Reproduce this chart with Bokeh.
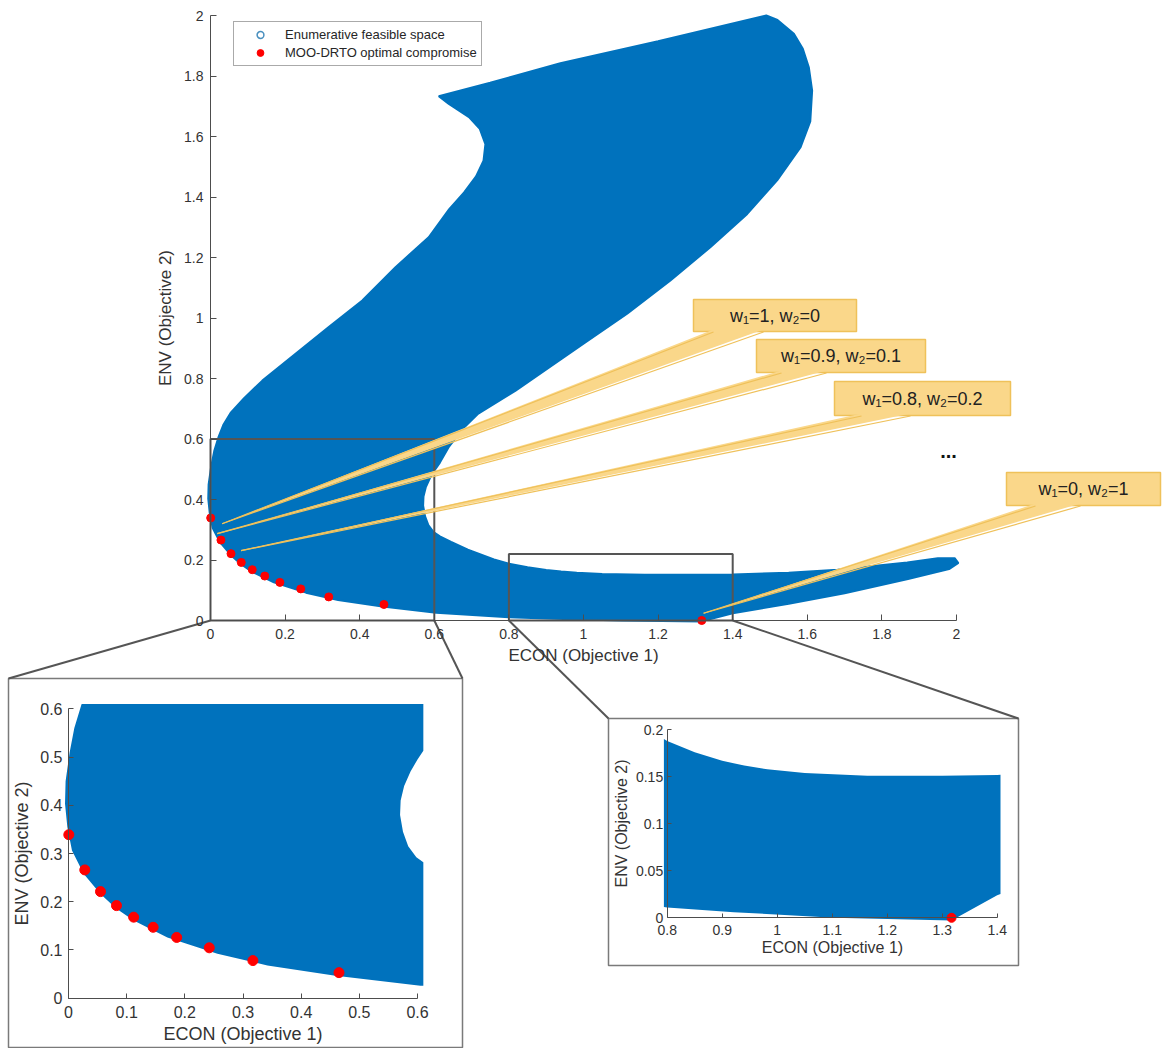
from bokeh.plotting import figure
from bokeh.models import (Range1d, LinearAxis, FixedTicker, CustomJSTickFormatter,
                          Legend, LegendItem)
from bokeh.core.properties import value
from bokeh.embed import file_html
from bokeh.resources import INLINE

W, H = 1176, 1048
FONT = "Liberation Sans"
BLUE = "#0072BD"
RED = "#FF0000"
AXC = "#4D4D4D"
TXT = "#333333"
CALL_FILL = "#FAD78A"
CALL_LINE = "#EFC15A"

# ---- data -------------------------------------------------------------
# boundary of the enumerated feasible objective space (ECON, ENV)
region_x = [1.490, 1.200, 0.938, 0.750, 0.612, 0.639, 0.693, 0.722, 0.737, 0.732,
            0.712, 0.680, 0.640, 0.585, 0.496, 0.407, 0.317, 0.228, 0.139, 0.090,
            0.055, 0.035, 0.022, 0.010, 0.002, -0.005, -0.006, -0.002, 0.006, 0.026,
            0.055, 0.082, 0.112, 0.170, 0.256, 0.342, 0.456, 0.605, 0.800, 0.921,
            1.103, 1.317, 1.400, 1.550, 1.700, 1.870, 1.980, 2.005, 1.995, 1.950,
            1.868, 1.681, 1.550, 1.400, 1.300, 1.164, 1.050, 0.982, 0.940, 0.900,
            0.850, 0.800, 0.760, 0.690, 0.645, 0.615, 0.598, 0.584, 0.575, 0.570,
            0.571, 0.577, 0.588, 0.600, 0.615, 0.638, 0.675, 0.718, 0.818, 0.938,
            1.000, 1.117, 1.233, 1.340, 1.439, 1.519, 1.582, 1.608, 1.613, 1.604,
            1.588, 1.564, 1.520]
region_y = [2.000, 1.915, 1.842, 1.778, 1.733, 1.708, 1.664, 1.625, 1.575, 1.520,
            1.468, 1.415, 1.360, 1.267, 1.168, 1.058, 0.970, 0.882, 0.793, 0.735,
            0.688, 0.648, 0.608, 0.560, 0.510, 0.450, 0.403, 0.355, 0.306, 0.258,
            0.216, 0.186, 0.161, 0.126, 0.092, 0.068, 0.047, 0.026, 0.011, 0.006,
            0.000, -0.003, 0.024, 0.055, 0.090, 0.137, 0.170, 0.190, 0.206, 0.206,
            0.192, 0.168, 0.158, 0.152, 0.151, 0.151, 0.154, 0.158, 0.162, 0.167,
            0.176, 0.188, 0.202, 0.234, 0.260, 0.278, 0.292, 0.315, 0.345, 0.380,
            0.410, 0.440, 0.470, 0.495, 0.522, 0.572, 0.632, 0.684, 0.760, 0.862,
            0.915, 1.014, 1.124, 1.234, 1.344, 1.455, 1.565, 1.650, 1.752, 1.829,
            1.890, 1.940, 1.985]

# MOO-DRTO optimal compromise solutions
pareto_x = [0.0005, 0.028, 0.055, 0.0825, 0.112, 0.1455, 0.186, 0.242, 0.317, 0.465, 1.317]
pareto_y = [0.339, 0.266, 0.221, 0.192, 0.168, 0.147, 0.126, 0.1045, 0.078, 0.053, 0.0]

main_ticks = [0, 0.2, 0.4, 0.6, 0.8, 1.0, 1.2, 1.4, 1.6, 1.8, 2.0]
zoom_a_ticks = [0, 0.1, 0.2, 0.3, 0.4, 0.5, 0.6]
zoom_b_xticks = [0.8, 0.9, 1.0, 1.1, 1.2, 1.3, 1.4]
zoom_b_yticks = [0, 0.05, 0.1, 0.15, 0.2]

# zoom windows marked on the main plot: (x0, x1, y0, y1)
zoom_a_window = (0.0, 0.6, 0.0, 0.6)
zoom_b_window = (0.8, 1.4, 0.0, 0.22)

weight_labels = ["w\u2081=1, w\u2082=0", "w\u2081=0.9, w\u2082=0.1",
                 "w\u2081=0.8, w\u2082=0.2", "w\u2081=0, w\u2082=1"]
# point each weight label refers to (ECON, ENV)
weight_targets_x = [0.031, 0.018, 0.082, 1.322]
weight_targets_y = [0.320, 0.287, 0.231, 0.024]

# ---- panel placement on the page (pixels from top-left) ----------------
panels = {
    "m": dict(x0=210.0, sx=373.0, y0=620.0, sy=302.5),
    "a": dict(x0=68.0, sx=581.7, y0=997.7, sy=482.3),
    "b": dict(x0=666.7 - 0.8 * 550.0, sx=550.0, y0=917.3, sy=940.0),
}
inset_a_box = (8, 678, 462, 1047)     # left, top, right, bottom
inset_b_box = (608, 718, 1018, 965)
callout_boxes = [(693, 299, 856, 331), (756, 339, 925, 372),
                 (834, 381, 1010, 415), (1006, 472, 1160, 505)]
callout_bases = [(713, 763), (781, 826), (861, 910), (1035, 1080)]


def fx(k, x):
    return panels[k]["x0"] + panels[k]["sx"] * x


def fy(k, y):
    return H - (panels[k]["y0"] - panels[k]["sy"] * y)


def top(t):
    return H - t


def clip_polygon(xs, ys, x0, x1, y0, y1):
    pts = list(zip(xs, ys))

    def clip(points, inside, cross):
        out = []
        for i in range(len(points)):
            cur, prev = points[i], points[i - 1]
            if inside(cur):
                if not inside(prev):
                    out.append(cross(prev, cur))
                out.append(cur)
            elif inside(prev):
                out.append(cross(prev, cur))
        return out

    def at_x(xc):
        def f(a, b):
            t = (xc - a[0]) / (b[0] - a[0])
            return (xc, a[1] + t * (b[1] - a[1]))
        return f

    def at_y(yc):
        def f(a, b):
            t = (yc - a[1]) / (b[1] - a[1])
            return (a[0] + t * (b[0] - a[0]), yc)
        return f

    pts = clip(pts, lambda p: p[0] >= x0, at_x(x0))
    pts = clip(pts, lambda p: p[0] <= x1, at_x(x1))
    pts = clip(pts, lambda p: p[1] >= y0, at_y(y0))
    pts = clip(pts, lambda p: p[1] <= y1, at_y(y1))
    return [p[0] for p in pts], [p[1] for p in pts]


p = figure(width=W, height=H, x_range=Range1d(0, W), y_range=Range1d(0, H),
           x_axis_type=None, y_axis_type=None, output_backend="svg",
           toolbar_location=None, min_border=0)
p.outline_line_color = None
p.background_fill_color = "white"

for k, pr in panels.items():
    p.extra_x_ranges[k + "x"] = Range1d((0 - pr["x0"]) / pr["sx"], (W - pr["x0"]) / pr["sx"])
    p.extra_y_ranges[k + "y"] = Range1d(-(H - pr["y0"]) / pr["sy"], pr["y0"] / pr["sy"])

fmt = CustomJSTickFormatter(code="return tick.toFixed(2).replace(/\\.?0+$/, '');")


def add_axes(k, xt, yt, tfs, lfs, tick, xs, ys, xls, yls):
    kw = dict(x_range_name=k + "x", y_range_name=k + "y",
              axis_line_color=AXC, major_tick_line_color=AXC, minor_tick_line_color=None,
              major_tick_in=tick, major_tick_out=0,
              major_label_text_font=FONT, major_label_text_font_size=tfs,
              major_label_text_color=TXT,
              axis_label_text_font=FONT, axis_label_text_font_size=lfs,
              axis_label_text_color=TXT, axis_label_text_font_style="normal",
              formatter=fmt)
    xa = LinearAxis(fixed_location=yt[0], bounds=(xt[0], xt[-1]),
                    ticker=FixedTicker(ticks=xt), axis_label="ECON (Objective 1)",
                    major_label_standoff=xs, axis_label_standoff=xls, **kw)
    ya = LinearAxis(fixed_location=xt[0], bounds=(yt[0], yt[-1]),
                    ticker=FixedTicker(ticks=yt), axis_label="ENV (Objective 2)",
                    major_label_standoff=ys, axis_label_standoff=yls, **kw)
    p.add_layout(xa, "below")
    p.add_layout(ya, "left")


# ---- inset frames -----------------------------------------------------
for (l, t, r, b) in (inset_a_box, inset_b_box):
    p.quad(left=[l], right=[r], top=[top(t)], bottom=[top(b)],
           fill_color="white", line_color="#7A7A7A", line_width=1.5)

# ---- main plot --------------------------------------------------------
p.patch(region_x, region_y, x_range_name="mx", y_range_name="my",
        fill_color=BLUE, line_color=BLUE, line_width=2)
main_dots = p.scatter(pareto_x, pareto_y, x_range_name="mx", y_range_name="my",
                      marker="circle", size=8, fill_color=RED, line_color=RED)
# legend key for the enumerated space (an open ring, not drawn in the plot)
legend_ring = p.scatter(x=[float("nan")], y=[float("nan")], marker="circle", size=9,
                        fill_color=None, line_color="#4A90BF", line_width=1.5)
add_axes("m", main_ticks, main_ticks, "14px", "17px", 6, 8, 7, 4, 6)

p.quad(left=[zoom_a_window[0], zoom_b_window[0]], right=[zoom_a_window[1], zoom_b_window[1]],
       bottom=[zoom_a_window[2], zoom_b_window[2]], top=[zoom_a_window[3], zoom_b_window[3]],
       x_range_name="mx", y_range_name="my", fill_color=None,
       line_color="#555555", line_width=2)

# ---- zoomed view A ----------------------------------------------------
ax_, ay_ = clip_polygon(region_x, region_y, -0.01, 0.61, -0.01, 0.61)
p.patch(ax_, ay_, x_range_name="ax", y_range_name="ay", fill_color=BLUE, line_color=None)
pa_x = [x for x, y in zip(pareto_x, pareto_y) if x <= 0.6 and y <= 0.6]
pa_y = [y for x, y in zip(pareto_x, pareto_y) if x <= 0.6 and y <= 0.6]
p.scatter(pa_x, pa_y, x_range_name="ax", y_range_name="ay", marker="circle",
          size=10, fill_color=RED, line_color=RED)
add_axes("a", zoom_a_ticks, zoom_a_ticks, "16px", "18px", 5, 8, 6, 2, 5)

# ---- zoomed view B ----------------------------------------------------
bx_, by_ = clip_polygon(region_x, region_y, 0.794, 1.406, -0.005, 0.2)
p.patch(bx_, by_, x_range_name="bx", y_range_name="by", fill_color=BLUE, line_color=None)
pb_x = [x for x, y in zip(pareto_x, pareto_y) if 0.8 <= x <= 1.4 and y <= 0.2]
pb_y = [y for x, y in zip(pareto_x, pareto_y) if 0.8 <= x <= 1.4 and y <= 0.2]
p.scatter(pb_x, pb_y, x_range_name="bx", y_range_name="by", marker="circle",
          size=9, fill_color=RED, line_color=RED)
add_axes("b", zoom_b_xticks, zoom_b_yticks, "14px", "16px", 4, 7, 4, 1, 3)

# ---- connectors from zoom windows to the insets --------------------------
con_x0 = [fx("m", zoom_a_window[0]), fx("m", zoom_a_window[1]),
          fx("m", zoom_b_window[0]), fx("m", zoom_b_window[1])]
con_y0 = [fy("m", 0.0)] * 4
con_x1 = [inset_a_box[0], inset_a_box[2], inset_b_box[0], inset_b_box[2]]
con_y1 = [top(inset_a_box[1]), top(inset_a_box[1]), top(inset_b_box[1]), top(inset_b_box[1])]
p.segment(con_x0, con_y0, con_x1, con_y1, line_color="#555555", line_width=2)

# ---- weight call-outs -------------------------------------------------
for (l, t, r, b) in callout_boxes:
    p.quad(left=[l], right=[r], top=[top(t)], bottom=[top(b)],
           fill_color=CALL_FILL, line_color=CALL_LINE, line_width=1.5)
wx, wy, sx0, sy0, sx1, sy1 = [], [], [], [], [], []
for (l, t, r, b), (b0, b1), tx, ty in zip(callout_boxes, callout_bases,
                                          weight_targets_x, weight_targets_y):
    px_, py_ = fx("m", tx), fy("m", ty)
    wx.append([b0, b1, px_])
    wy.append([top(b) + 2, top(b) + 2, py_])
    sx0 += [b0, b1]
    sy0 += [top(b) - 0.5, top(b) - 0.5]
    sx1 += [px_, px_]
    sy1 += [py_, py_]
p.patches(wx, wy, fill_color=CALL_FILL, line_color=None)
p.segment(sx0, sy0, sx1, sy1, line_color=CALL_LINE, line_width=1.2)
p.text(x=[(l + r) / 2 for (l, t, r, b) in callout_boxes],
       y=[top((t + b) / 2) for (l, t, r, b) in callout_boxes],
       text=weight_labels, text_font=value(FONT), text_font_size="18px",
       text_color="#222222", text_align="center", text_baseline="middle")
p.text(x=[948], y=[top(450)], text=["..."], text_font=value(FONT),
       text_font_size="20px", text_font_style="bold", text_color="#111111",
       text_align="center", text_baseline="middle")

# ---- legend -----------------------------------------------------------
legend = Legend(items=[LegendItem(label="Enumerative feasible space", renderers=[legend_ring]),
                       LegendItem(label="MOO-DRTO optimal compromise", renderers=[main_dots])],
                location=(233, H - 66), padding=4, spacing=1, margin=0,
                glyph_width=44, glyph_height=17, label_height=17, label_standoff=3,
                label_text_font=FONT, label_text_font_size="13px", label_text_color="#262626",
                border_line_color="#555555", border_line_width=1,
                background_fill_color="white", background_fill_alpha=1.0)
p.add_layout(legend)

open("out.html", "w").write(file_html(p, INLINE))
